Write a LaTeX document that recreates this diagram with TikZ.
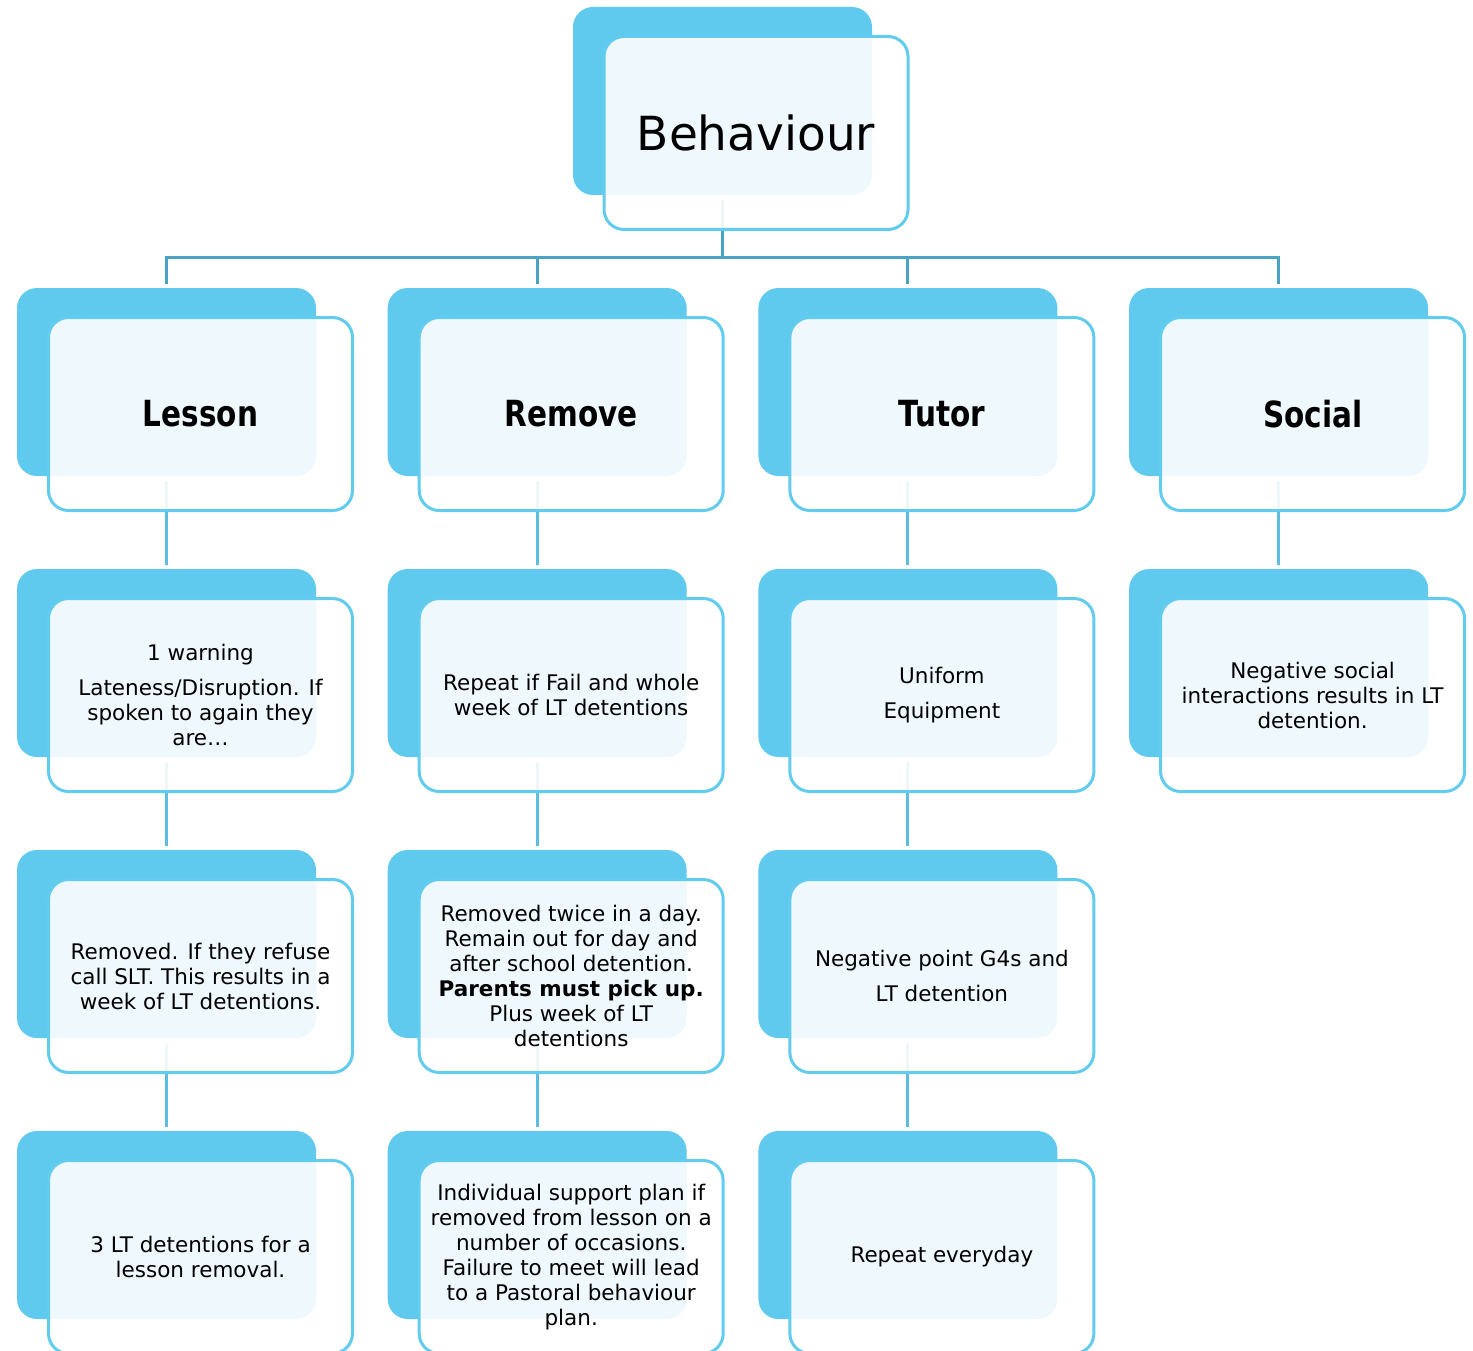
\documentclass[tikz,border=0pt]{standalone}
\usepackage{fontspec}
\setmainfont{DejaVu Sans}
\newfontfamily\headfont{DejaVu Sans}[FakeStretch=0.82]
\usetikzlibrary{positioning}
\pgfdeclarelayer{boxes}
\pgfdeclarelayer{lines}
\pgfsetlayers{lines,boxes,main}
\definecolor{cardblue}{HTML}{5FCAEE}
\definecolor{cardline}{HTML}{62CCEE}
\definecolor{treeblue}{HTML}{4AA3C3}
\definecolor{stemblue}{HTML}{59BEE0}
\begin{document}
\begin{tikzpicture}[x=1pt,y=-1pt,on grid,node distance=281pt,
  front node/.style={rectangle,rounded corners=20pt,draw=cardline,line width=3pt,fill=white,fill opacity=0.9,text opacity=1,minimum width=304pt,minimum height=193pt,align=center,font=\fontsize{21.5}{25}\selectfont},
  head node/.style={front node,font=\headfont\bfseries\fontsize{36}{40}\selectfont},
  back node/.style={rectangle,rounded corners=20pt,fill=cardblue,minimum width=299pt,minimum height=188pt},
  tree link/.style={draw=treeblue,line width=3pt},
  stem link/.style={draw=stemblue,line width=3pt}]
  \useasboundingbox (0,0) rectangle (1473,1351);

  % top
  \node[front node,font=\fontsize{47}{56}\selectfont] (beh) at (756,133) {Behaviour};

  % headings
  \node[head node] (lesson) at (200.5,414) {Lesson};
  \node[head node] (remove) [right=370.7pt of lesson] {Remove};
  \node[head node] (tutor)  [right=370.7pt of remove] {Tutor};
  \node[head node] (social) [right=370.7pt of tutor]  {Social};

  % lesson column
  \node[front node] (l1) [below=of lesson] {1 warning\\[10pt]Lateness/Disruption. If\\spoken to again they\\are…};
  \node[front node] (l2) [below=of l1] {Removed. If they refuse\\call SLT. This results in a\\week of LT detentions.};
  \node[front node] (l3) [below=of l2] {3 LT detentions for a\\lesson removal.};

  % remove column
  \node[front node] (r1) [below=of remove] {Repeat if Fail and whole\\week of LT detentions};
  \node[front node] (r2) [below=of r1] {Removed twice in a day.\\Remain out for day and\\after school detention.\\\textbf{Parents must pick up.}\\Plus week of LT\\detentions};
  \node[front node] (r3) [below=of r2] {Individual support plan if\\removed from lesson on a\\number of occasions.\\Failure to meet will lead\\to a Pastoral behaviour\\plan.};

  % tutor column
  \node[front node] (t1) [below=of tutor] {Uniform\\[10pt]Equipment};
  \node[front node] (t2) [below=of t1] {Negative point G4s and\\[10pt]LT detention};
  \node[front node] (t3) [below=of t2] {Repeat everyday};

  % social column
  \node[front node] (s1) [below=of social] {Negative social\\interactions results in LT\\detention.};

  % blue cards behind
  \begin{pgfonlayer}{boxes}
    \node[back node] (beh back) at ([xshift=-33.5pt,yshift=32pt]beh.center) {};
    \node[back node] (lesson back) at ([xshift=-34pt,yshift=32pt]lesson.center) {};
    \node[back node] (remove back) at ([xshift=-34pt,yshift=32pt]remove.center) {};
    \node[back node] (tutor back)  at ([xshift=-34pt,yshift=32pt]tutor.center) {};
    \node[back node] (social back) at ([xshift=-34pt,yshift=32pt]social.center) {};
    \node[back node] (l1 back) at ([xshift=-34pt,yshift=32pt]l1.center) {};
    \node[back node] (l2 back) at ([xshift=-34pt,yshift=32pt]l2.center) {};
    \node[back node] (l3 back) at ([xshift=-34pt,yshift=32pt]l3.center) {};
    \node[back node] (r1 back) at ([xshift=-34pt,yshift=32pt]r1.center) {};
    \node[back node] (r2 back) at ([xshift=-34pt,yshift=32pt]r2.center) {};
    \node[back node] (r3 back) at ([xshift=-34pt,yshift=32pt]r3.center) {};
    \node[back node] (t1 back) at ([xshift=-34pt,yshift=32pt]t1.center) {};
    \node[back node] (t2 back) at ([xshift=-34pt,yshift=32pt]t2.center) {};
    \node[back node] (t3 back) at ([xshift=-34pt,yshift=32pt]t3.center) {};
    \node[back node] (s1 back) at ([xshift=-34pt,yshift=32pt]s1.center) {};
  \end{pgfonlayer}

  % connectors
  \begin{pgfonlayer}{lines}
    \draw[tree link] ([yshift=-5pt]beh back.south) |- ([yshift=30pt]lesson back.north) -- ([yshift=4pt]lesson back.north);
    \draw[tree link] ([yshift=-5pt]beh back.south) |- ([yshift=30pt]remove back.north) -- ([yshift=4pt]remove back.north);
    \draw[tree link] ([yshift=-5pt]beh back.south) |- ([yshift=30pt]tutor back.north) -- ([yshift=4pt]tutor back.north);
    \draw[tree link] ([yshift=-5pt]beh back.south) |- ([yshift=30pt]social back.north) -- ([yshift=4pt]social back.north);
    \draw[stem link] ([yshift=-5pt]lesson back.south) -- ([yshift=4pt]l1 back.north);
    \draw[stem link] ([yshift=-5pt]l1 back.south) -- ([yshift=4pt]l2 back.north);
    \draw[stem link] ([yshift=-5pt]l2 back.south) -- ([yshift=4pt]l3 back.north);
    \draw[stem link] ([yshift=-5pt]remove back.south) -- ([yshift=4pt]r1 back.north);
    \draw[stem link] ([yshift=-5pt]r1 back.south) -- ([yshift=4pt]r2 back.north);
    \draw[stem link] ([yshift=-5pt]r2 back.south) -- ([yshift=4pt]r3 back.north);
    \draw[stem link] ([yshift=-5pt]tutor back.south) -- ([yshift=4pt]t1 back.north);
    \draw[stem link] ([yshift=-5pt]t1 back.south) -- ([yshift=4pt]t2 back.north);
    \draw[stem link] ([yshift=-5pt]t2 back.south) -- ([yshift=4pt]t3 back.north);
    \draw[stem link] ([yshift=-5pt]social back.south) -- ([yshift=4pt]s1 back.north);
  \end{pgfonlayer}
\end{tikzpicture}
\end{document}
